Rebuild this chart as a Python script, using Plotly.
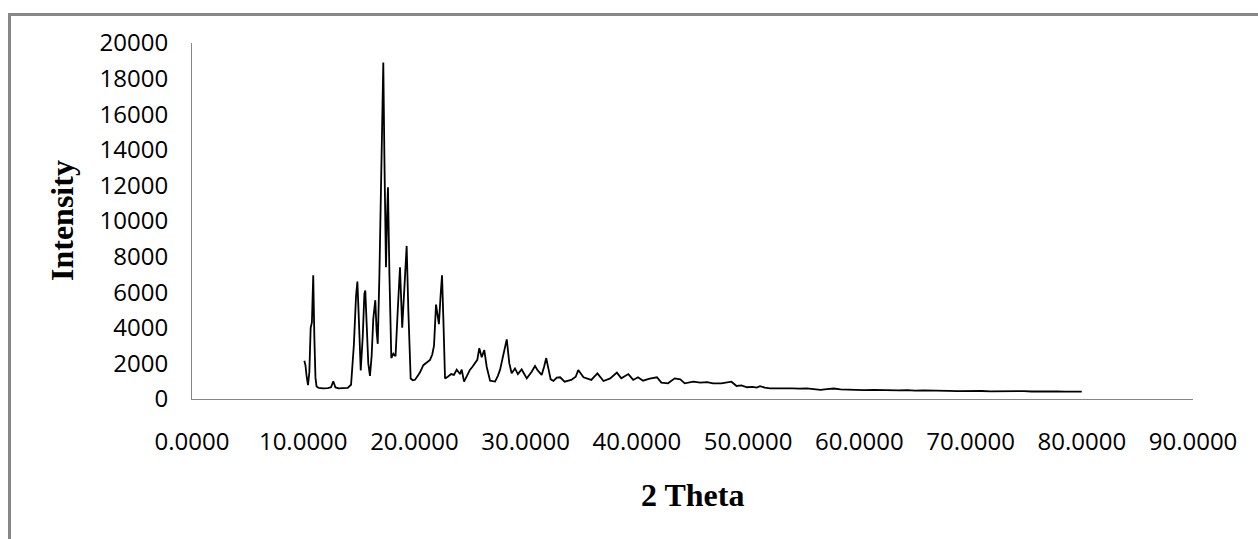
import plotly.graph_objects as go

two_theta = [
    10.10, 10.20, 10.30, 10.43, 10.55, 10.67, 10.78, 10.90, 11.00, 11.10,
    11.20, 11.40, 11.80, 12.20, 12.50, 12.70, 12.90, 13.20, 13.60, 14.00,
    14.30, 14.55, 14.75, 14.87, 15.00, 15.17, 15.35, 15.50, 15.58, 15.70,
    15.85, 16.00, 16.15, 16.30, 16.48, 16.60, 16.70, 16.85, 17.00, 17.10,
    17.20, 17.30, 17.44, 17.55, 17.62, 17.75, 17.92, 18.10, 18.30, 18.50,
    18.70, 18.90, 19.10, 19.30, 19.45, 19.66, 19.85, 20.05, 20.30, 20.50,
    20.80, 21.10, 21.40, 21.60, 21.76, 21.94, 22.10, 22.20, 22.35, 22.48,
    22.60, 22.75, 23.00, 23.30, 23.55, 23.80, 24.10, 24.25, 24.46, 24.70,
    25.00, 25.20, 25.45, 25.65, 25.83, 26.05, 26.28, 26.50, 26.80, 27.25,
    27.50, 27.70, 27.93, 28.10, 28.30, 28.53, 28.74, 29.04, 29.30, 29.64,
    29.85, 30.10, 30.54, 30.84, 31.10, 31.44, 31.65, 31.85, 32.04, 32.25,
    32.50, 32.80, 33.10, 33.50, 34.10, 34.50, 34.73, 35.20, 35.90, 36.45,
    37.00, 37.60, 38.20, 38.60, 39.23, 39.67, 40.10, 40.55, 41.15, 41.80,
    42.20, 42.80, 43.40, 43.90, 44.30, 45.07, 45.70, 46.30, 46.85, 47.60,
    48.50, 48.96, 49.40, 49.90, 50.40, 50.77, 51.07, 51.50, 51.97, 52.60,
    53.30, 54.00, 54.60, 55.27, 55.90, 56.50, 57.10, 57.70, 58.30, 59.00,
    59.70, 60.40, 61.30, 62.00, 62.80, 63.50, 64.30, 65.00, 65.80, 66.50,
    67.26, 68.00, 68.80, 69.50, 70.30, 71.00, 71.80, 72.50, 73.30, 74.00,
    74.80, 75.50, 76.30, 77.00, 77.80, 78.50, 79.30, 80.00,
]

intensity = [
    2150, 1900, 1300, 780, 1500, 4000, 4300, 6950, 3500, 1200,
    700, 620, 600, 610, 660, 1000, 650, 600, 610, 620,
    800, 3000, 5800, 6600, 4500, 1600, 3500, 5900, 6100, 4200,
    2000, 1300, 2400, 4500, 5550, 3800, 3100, 7000, 12500, 16500,
    18900, 13500, 7400, 10500, 11900, 7000, 2300, 2550, 2400, 5000,
    7400, 4000, 6500, 8600, 5000, 1150, 1050, 1080, 1300, 1500,
    1900, 2050, 2200, 2500, 3000, 5300, 4400, 4200, 5800, 6950,
    4500, 1150, 1250, 1400, 1350, 1650, 1400, 1650, 980, 1300,
    1650, 1800, 2000, 2200, 2850, 2350, 2750, 1800, 1030, 980,
    1300, 1650, 2300, 2800, 3350, 2000, 1450, 1720, 1400, 1660,
    1440, 1160, 1530, 1850, 1590, 1350, 1800, 2300, 1720, 1100,
    1020, 1200, 1220, 970, 1070, 1250, 1630, 1220, 1070, 1440,
    1010, 1160, 1480, 1160, 1400, 1070, 1220, 1030, 1140, 1220,
    920, 880, 1160, 1100, 880, 970, 920, 950, 880, 880,
    970, 730, 760, 660, 680, 640, 720, 640, 600, 610,
    590, 600, 580, 600, 560, 510, 560, 590, 540, 520,
    530, 500, 510, 490, 500, 480, 500, 470, 480, 460,
    450, 460, 440, 450, 440, 450, 430, 440, 450, 430,
    440, 420, 430, 420, 430, 410, 420, 410,
]

x_title = "2 Theta"
y_title = "Intensity"

fig = go.Figure()
fig.add_trace(go.Scatter(
    x=two_theta, y=intensity, mode="lines",
    line=dict(color="#000000", width=1.8),
    showlegend=False, hoverinfo="x+y",
))

tick_font = dict(family="Open Sans", size=24, color="#000000")
axis_col = "#868686"
title_font = dict(family="Liberation Serif", size=32, color="#000000")

fig.update_layout(
    width=1258, height=539,
    margin=dict(l=192, r=65, t=43, b=140, pad=0),
    paper_bgcolor="#ffffff", plot_bgcolor="#ffffff",
    xaxis=dict(
        range=[0, 90], dtick=10, tick0=0, tickformat=".4f",
        showgrid=False, zeroline=False, showline=True,
        linecolor=axis_col, linewidth=1, ticks="",
        tickfont=tick_font, ticklabelstandoff=21,
    ),
    yaxis=dict(
        range=[0, 20000], dtick=2000, tick0=0, tickformat="d",
        showgrid=False, zeroline=False, showline=True,
        linecolor=axis_col, linewidth=1, ticks="",
        tickfont=tick_font, ticklabelstandoff=18,
    ),
    annotations=[
        dict(text="<b>%s</b>" % x_title, xref="paper", yref="paper",
             x=0.5, y=(399 - 495) / 356, showarrow=False,
             xanchor="center", yanchor="middle", font=title_font),
        dict(text="<b>%s</b>" % y_title, xref="paper", yref="paper",
             x=(62 - 192) / 1001, y=0.5, showarrow=False, textangle=-90,
             xanchor="center", yanchor="middle", font=title_font),
    ],
    shapes=[
        dict(type="rect", xref="paper", yref="paper",
             x0=(9.5 - 192) / 1001, x1=1.3, y0=-0.9, y1=(399 - 14.5) / 356,
             line=dict(color="#878787", width=3), layer="below"),
    ],
)

fig.write_html("out.html")
